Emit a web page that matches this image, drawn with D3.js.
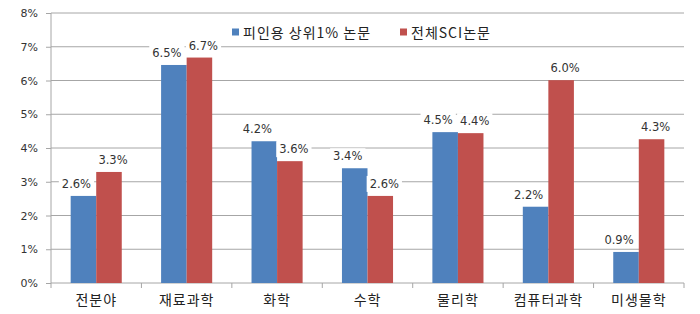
<!DOCTYPE html>
<html>
<head>
<meta charset="utf-8">
<script src="https://cdn.jsdelivr.net/npm/d3@7"></script>
<style>
  body { margin: 0; background: #fff; }
  .grid line { stroke: #a6a6a6; stroke-width: 1; }
  .axis path, .axis line { stroke: #a6a6a6; }
  .y-axis text { font-family: "DejaVu Sans", sans-serif; font-size: 11px; fill: #333; }
  .x-axis text { font-family: "Noto Sans CJK KR", sans-serif; font-size: 14px; fill: #222; letter-spacing: 1px; }
  .val-label { font-family: "DejaVu Sans", sans-serif; font-size: 11.5px; fill: #333; }
  .legend text { font-family: "Noto Sans CJK KR", sans-serif; font-size: 14px; fill: #222; letter-spacing: 1px; }
</style>
</head>
<body>
<div id="chart"></div>
<script>
const categories = ["전분야", "재료과학", "화학", "수학", "물리학", "컴퓨터과학", "미생물학"];
const seriesNames = ["피인용 상위1% 논문", "전체SCI논문"];
const top1Values = [2.58, 6.46, 4.2, 3.4, 4.47, 2.26, 0.92];
const allSciValues = [3.29, 6.68, 3.61, 2.58, 4.44, 6.01, 4.26];
const top1Labels = ["2.6%", "6.5%", "4.2%", "3.4%", "4.5%", "2.2%", "0.9%"];
const allSciLabels = ["3.3%", "6.7%", "3.6%", "2.6%", "4.4%", "6.0%", "4.3%"];
const yTicks = [0, 1, 2, 3, 4, 5, 6, 7, 8];

const colors = ["#4f81bd", "#c0504d"];
const width = 700, height = 314;
const margin = { top: 13, right: 16, bottom: 31, left: 51 };

const svg = d3.select("#chart").append("svg")
  .attr("width", width).attr("height", height);

const x = d3.scaleBand().domain(categories)
  .range([margin.left, width - margin.right]).paddingInner(0).paddingOuter(0);
const inner = d3.scaleBand().domain([0, 1])
  .range([0, x.bandwidth()]).paddingInner(0).paddingOuter(0.77);
const y = d3.scaleLinear().domain([0, 8]).range([height - margin.bottom, margin.top]);

// gridlines
svg.append("g").attr("class", "grid")
  .selectAll("line").data(yTicks.filter(d => d > 0)).join("line")
  .attr("x1", margin.left).attr("x2", width - margin.right)
  .attr("y1", d => y(d)).attr("y2", d => y(d));

// y axis
const yAxis = svg.append("g").attr("class", "axis y-axis")
  .attr("transform", `translate(${margin.left},0)`)
  .call(d3.axisLeft(y).tickValues(yTicks).tickFormat(d => d + "%").tickSize(5).tickPadding(8));
yAxis.select(".domain").attr("d", `M0,${y(8)}V${y(0)}`);

// x axis: ticks at category boundaries
const xAxis = svg.append("g").attr("class", "axis x-axis")
  .attr("transform", `translate(0,${y(0)})`)
  .call(d3.axisBottom(x).tickSize(0).tickPadding(12));
xAxis.select(".domain").attr("d", `M${margin.left},0H${width - margin.right}`);
xAxis.append("g").selectAll("line")
  .data(d3.range(categories.length + 1)).join("line")
  .attr("x1", i => margin.left + i * x.step()).attr("x2", i => margin.left + i * x.step())
  .attr("y1", 0).attr("y2", 5).attr("stroke", "#a6a6a6");

const rows = categories.map((c, i) => ({
  cat: c,
  vals: [
    { s: 0, v: top1Values[i], label: top1Labels[i] },
    { s: 1, v: allSciValues[i], label: allSciLabels[i] }
  ]
}));

// bars
const groups = svg.append("g").selectAll("g").data(rows).join("g")
  .attr("transform", d => `translate(${x(d.cat)},0)`);
groups.selectAll("rect").data(d => d.vals).join("rect")
  .attr("x", d => inner(d.s)).attr("width", inner.bandwidth())
  .attr("y", d => y(d.v)).attr("height", d => y(0) - y(d.v))
  .attr("fill", d => colors[d.s]);

// value labels with white boxes (blue first, red drawn over it)
const labelShift = [-7, 4];
[0, 1].forEach(s => {
  const lg = groups.append("g").attr("class", "lab");
  lg.each(function(d) {
    const item = d.vals[s];
    const g = d3.select(this);
    const cx = inner(s) + inner.bandwidth() / 2 + labelShift[s];
    const cy = y(item.v) - 12;
    const t = g.append("text").attr("class", "val-label")
      .attr("x", cx).attr("y", cy).attr("text-anchor", "middle")
      .attr("dominant-baseline", "central").text(item.label);
    const bb = t.node().getBBox();
    g.insert("rect", "text")
      .attr("x", bb.x - 3).attr("y", bb.y - 1)
      .attr("width", bb.width + 6).attr("height", bb.height + 2)
      .attr("fill", "#fff");
  });
});

// legend
const legend = svg.append("g").attr("class", "legend");
const legendX = [232, 400];
seriesNames.forEach((name, i) => {
  const g = legend.append("g").attr("transform", `translate(${legendX[i]},32)`);
  g.append("rect").attr("x", 0).attr("y", -3.5).attr("width", 7).attr("height", 7).attr("fill", colors[i]);
  g.append("text").attr("x", 11).attr("y", 0).attr("dominant-baseline", "central").text(name);
});
</script>
</body>
</html>
